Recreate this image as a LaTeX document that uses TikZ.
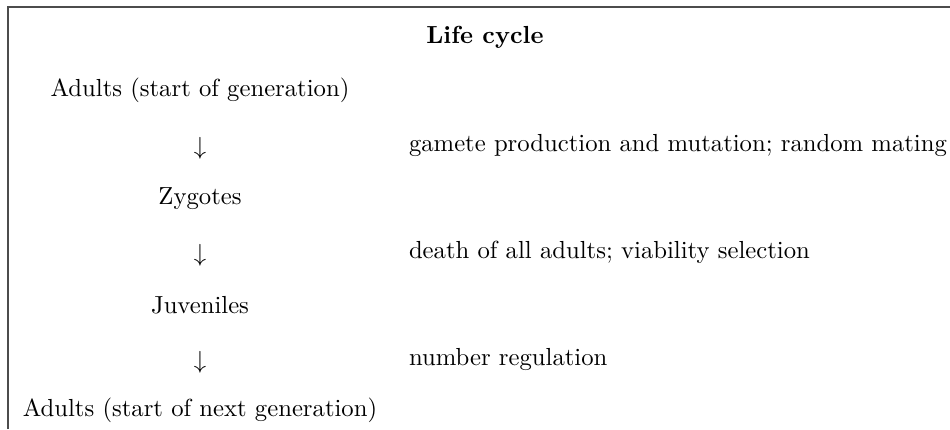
\documentclass[tikz,border=0pt]{standalone}
\begin{document}
\begin{tikzpicture}[x=0.405pt,y=-0.405pt,
  lbl/.style={inner sep=0pt,outer sep=0pt},
  frameline/.style={draw=black!70,line width=0.6pt}]
\useasboundingbox (0,0) rectangle (950,429);
\coordinate (tl) at (8,7);
\coordinate (tr) at (950,7);
\coordinate (bl) at (8,429);
\draw[frameline] (bl) -- (tl) -- (tr);
\node[lbl,font=\bfseries] (title) at (485,37) {Life cycle};
\node[lbl] (a1) at (200,90) {Adults (start of generation)};
\node[lbl] (r1) at (200,148) {$\downarrow$};
\node[lbl] (z) at (200,199) {Zygotes};
\node[lbl] (r2) at (200,255) {$\downarrow$};
\node[lbl] (j) at (200,305) {Juveniles};
\node[lbl] (r3) at (200,362) {$\downarrow$};
\node[lbl] (a2) at (200,410) {Adults (start of next generation)};
\node[lbl,anchor=west] (t1) at (409,145) {gamete production and mutation; random mating};
\node[lbl,anchor=west] (t2) at (409,252) {death of all adults; viability selection};
\node[lbl,anchor=west] (t3) at (409,359) {number regulation};
\end{tikzpicture}
\end{document}
